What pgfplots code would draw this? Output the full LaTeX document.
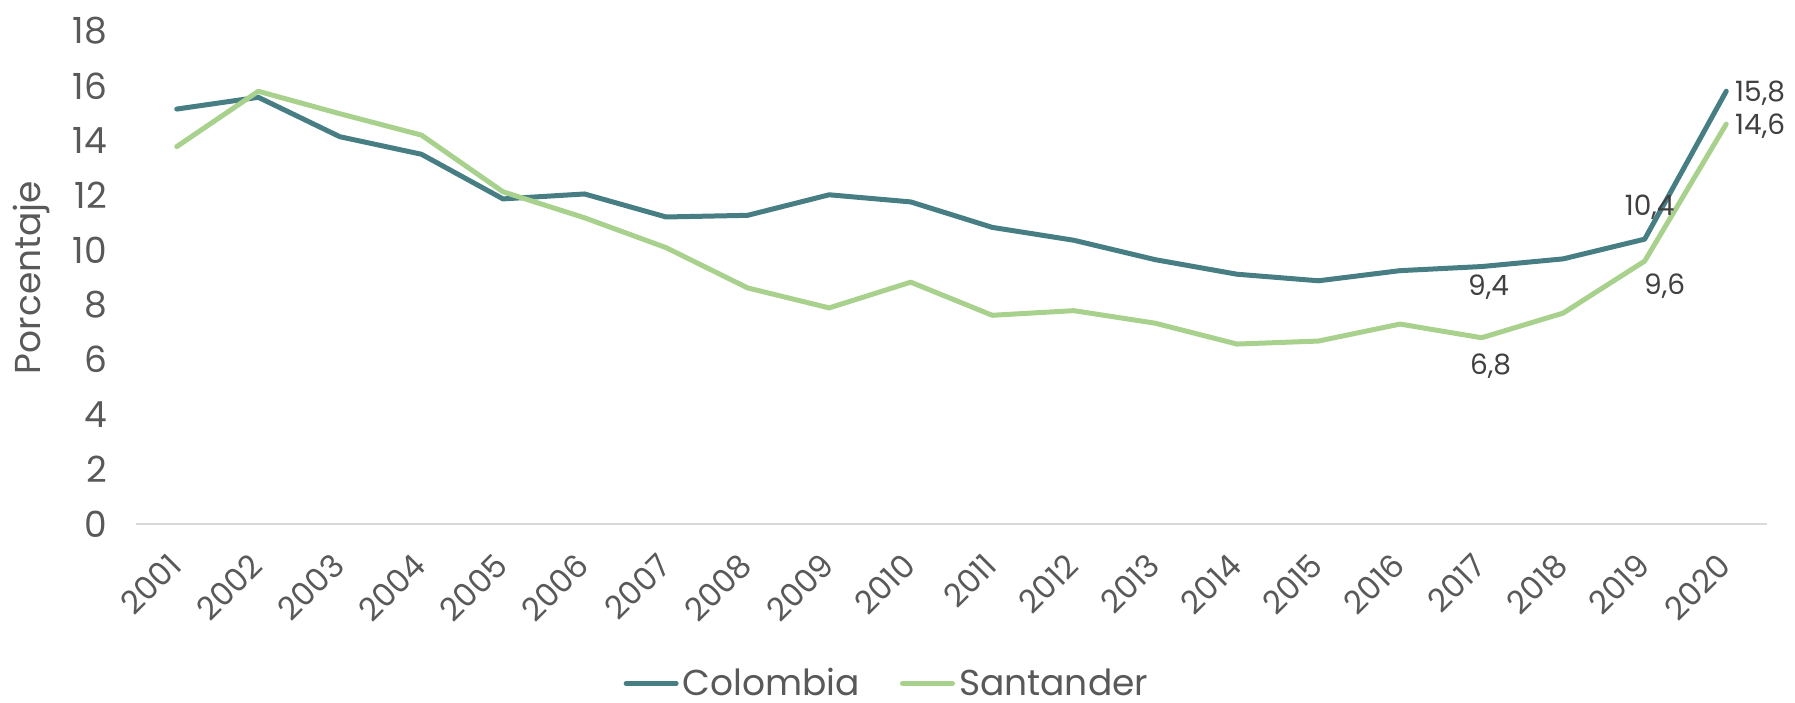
\documentclass[border=0pt]{standalone}
\usepackage{fontspec}
\setmainfont{Poppins}
\usepackage{pgfplots}
\usepackage{pgfplotstable}
\pgfplotsset{compat=1.18}
\definecolor{colcol}{HTML}{467E83}
\definecolor{santcol}{HTML}{A9D18E}
\definecolor{txtgray}{HTML}{595959}
\definecolor{lblgray}{HTML}{404040}
\definecolor{axgray}{HTML}{D9D9D9}
\pgfplotstableread{
x col sant
0 15.15 13.78
1 15.58 15.80
2 14.14 14.98
3 13.50 14.20
4 11.87 12.13
5 12.05 11.18
6 11.21 10.09
7 11.27 8.62
8 12.02 7.89
9 11.76 8.83
10 10.83 7.62
11 10.36 7.79
12 9.65 7.33
13 9.12 6.57
14 8.88 6.68
15 9.25 7.30
16 9.40 6.80
17 9.68 7.70
18 10.40 9.60
19 15.80 14.60
}\data
\begin{document}
\begin{tikzpicture}
\useasboundingbox (-68pt,-89pt) rectangle (829.5pt,262pt);
\begin{axis}[
  at={(0,0)}, anchor=south west,
  scale only axis, width=815.5pt, height=246.5pt,
  xmin=-0.5, xmax=19.5, ymin=0, ymax=18,
  axis x line=bottom, axis y line=left,
  x axis line style={draw=axgray, line width=1.2pt, -},
  y axis line style={draw=none},
  major tick length=0pt,
  xtick={0,...,19},
  xticklabels={2001,2002,2003,2004,2005,2006,2007,2008,2009,2010,2011,2012,2013,2014,2015,2016,2017,2018,2019,2020},
  ytick={0,2,...,18},
  /pgf/number format/assume math mode=true,
  tick label style={text=txtgray},
  yticklabel style={font=\fontsize{18}{20}\selectfont, xshift=-11pt},
  xticklabel style={font=\fontsize{16}{18}\selectfont, rotate=45, anchor=east, inner sep=1pt},
  xticklabel shift=17pt,
  ylabel={Porcentaje},
  ylabel style={at={(axis description cs:-0.0638,0.5)}, anchor=center, font=\fontsize{18}{20}\selectfont, text=txtgray},
  legend style={at={(axis description cs:0.461,-0.3236)}, anchor=center, draw=none, fill=none,
    legend columns=2, font=\fontsize{18}{20}\selectfont, text=txtgray, inner sep=0pt,
    nodes={inner ysep=0pt},
    /tikz/every even column/.append style={column sep=18pt}},
  legend image code/.code={\draw[#1, line width=2.5pt, line cap=round] (0pt,0pt) -- (25pt,0pt);},
  clip=false,
]
\addplot[colcol, line width=2.5pt, line join=round, line cap=round] table[x=x, y=col] {\data};
\addlegendentry{Colombia}
\addplot[santcol, line width=2.5pt, line join=round, line cap=round] table[x=x, y=sant] {\data};
\addlegendentry{Santander}
\begin{scope}[every node/.style={font=\fontsize{14}{16}\selectfont, text=lblgray, inner sep=0pt}]
\node[anchor=west, xshift=4.3pt, yshift=-1pt] at (axis cs:19,15.8) {15,8};
\node[anchor=west, xshift=4.3pt, yshift=-1pt] at (axis cs:19,14.6) {14,6};
\node[anchor=center, xshift=2.5pt, yshift=16pt] at (axis cs:18,10.4) {10,4};
\node[anchor=center, xshift=10pt, yshift=-12.5pt] at (axis cs:18,9.6) {9,6};
\node[anchor=center, xshift=3.5pt, yshift=-10.5pt] at (axis cs:16,9.4) {9,4};
\node[anchor=center, xshift=4.5pt, yshift=-14pt] at (axis cs:16,6.8) {6,8};
\end{scope}
\end{axis}
\end{tikzpicture}
\end{document}
